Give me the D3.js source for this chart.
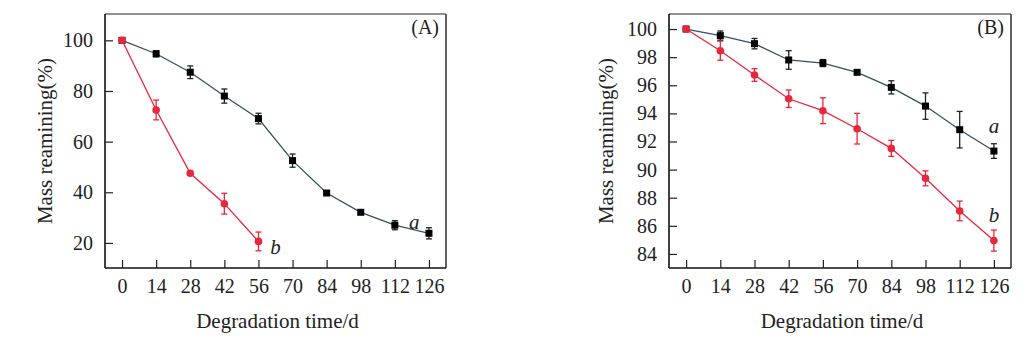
<!DOCTYPE html>
<html>
<head>
<meta charset="utf-8">
<script src="https://cdn.jsdelivr.net/npm/d3@7"></script>
<style>
  html, body { margin: 0; padding: 0; background: #fff; }
  svg { display: block; }
  text { font-family: "Liberation Serif", "Times New Roman", serif; fill: #222; }
</style>
</head>
<body>
<svg id="chart" width="1029" height="345"></svg>
<script>
// Degradation days (shared x categories)
const days = [0, 14, 28, 42, 56, 70, 84, 98, 112, 126];
const xTickLabels = ["0", "14", "28", "42", "56", "70", "84", "98", "112", "126"];

// Panel A
const aMassA = [100, 94.7, 87.4, 78.0, 69.1, 52.5, 39.7, 32.1, 27.0, 23.8];
const aErrA  = [0.5, 1.2, 2.5, 2.8, 2.1, 2.6, 0.8, 0.8, 1.8, 2.2];
const bDaysA = [0, 14, 28, 42, 56];
const bMassA = [100, 72.5, 47.5, 35.5, 20.6];
const bErrA  = [0.5, 3.9, 0.8, 4.1, 3.7];
const yTicksA = [20, 40, 60, 80, 100];

// Panel B
const aMassB = [100, 99.53, 98.96, 97.8, 97.58, 96.92, 95.85, 94.52, 92.84, 91.32];
const aErrB  = [0.05, 0.33, 0.37, 0.66, 0.25, 0.1, 0.47, 0.94, 1.3, 0.52];
const bMassB = [100, 98.46, 96.73, 95.04, 94.19, 92.91, 91.51, 89.38, 87.06, 84.95];
const bErrB  = [0.05, 0.68, 0.45, 0.62, 0.92, 1.09, 0.57, 0.53, 0.7, 0.75];
const yTicksB = [84, 86, 88, 90, 92, 94, 96, 98, 100];

const RED = "#e8263c";
const DARK = "#36505e";

const svg = d3.select("#chart");

function drawPanel(cfg) {
  const { left, right, top, bottom, yDomain, yTicks, series, tag, labels, titleOffset } = cfg;
  const x = d3.scaleLinear().domain([-7, 133]).range([left, right]);
  const y = d3.scaleLinear().domain(yDomain).range([bottom, top]);
  const g = svg.append("g");

  // frame: top/right lighter than the axes
  g.append("line").attr("x1", left).attr("x2", right).attr("y1", top).attr("y2", top)
    .attr("stroke", "#6b6b6b").attr("stroke-width", 1.6);
  g.append("line").attr("x1", right).attr("x2", right).attr("y1", top).attr("y2", bottom)
    .attr("stroke", "#3a3a3a").attr("stroke-width", 1.6);

  // x axis (ticks pointing inward)
  const xAxis = d3.axisBottom(x).tickValues(days)
    .tickFormat((d, i) => xTickLabels[i]).tickSizeInner(-8).tickSizeOuter(0).tickPadding(11);
  const gx = g.append("g").attr("transform", `translate(0,${bottom})`).call(xAxis);
  gx.select(".domain").attr("stroke", "#111").attr("stroke-width", 1.6)
    .attr("d", `M${left},0H${right}`);
  gx.selectAll(".tick line").attr("stroke", "#222").attr("stroke-width", 1.2);
  gx.selectAll(".tick text").style("font-size", "20px").style("font-family", "'Liberation Serif', serif").attr("fill", "#222");

  // y axis (ticks pointing inward)
  const yAxis = d3.axisLeft(y).tickValues(yTicks).tickSizeInner(-8).tickSizeOuter(0).tickPadding(12);
  const gy = g.append("g").attr("transform", `translate(${left},0)`).call(yAxis);
  gy.select(".domain").attr("stroke", "#111").attr("stroke-width", 1.6)
    .attr("d", `M0,${top}V${bottom}`);
  gy.selectAll(".tick line").attr("stroke", "#222").attr("stroke-width", 1.2);
  gy.selectAll(".tick text").style("font-size", "20px").style("font-family", "'Liberation Serif', serif").attr("fill", "#222");

  // axis titles
  g.append("text").attr("x", (left + right) / 2 + 2).attr("y", 328)
    .attr("text-anchor", "middle").style("font-size", "21px").text("Degradation time/d");
  g.append("text")
    .attr("transform", `translate(${left - titleOffset},141) rotate(-90)`)
    .attr("text-anchor", "middle").style("font-size", "21px").text("Mass reamining(%)");

  // panel tag
  g.append("text").attr("x", right - 7).attr("y", 34).attr("text-anchor", "end")
    .style("font-size", "20px").text(tag);

  // series
  series.forEach(s => {
    const pts = s.xs.map((d, i) => ({ x: d, y: s.ys[i], e: s.es[i] }));
    const line = d3.line().x(d => x(d.x)).y(d => y(d.y));
    g.append("path").datum(pts).attr("d", line).attr("fill", "none")
      .attr("stroke", s.line).attr("stroke-width", 1.3);

    const eb = g.append("g").attr("stroke", s.err).attr("stroke-width", 1.3);
    pts.forEach(p => {
      const cx = x(p.x), y1 = y(p.y - p.e), y2 = y(p.y + p.e);
      eb.append("line").attr("x1", cx).attr("x2", cx).attr("y1", y1).attr("y2", y2);
      eb.append("line").attr("x1", cx - 3).attr("x2", cx + 3).attr("y1", y1).attr("y2", y1);
      eb.append("line").attr("x1", cx - 3).attr("x2", cx + 3).attr("y1", y2).attr("y2", y2);
    });

    if (s.shape === "square") {
      g.selectAll(null).data(pts).enter().append("rect")
        .attr("x", d => x(d.x) - 3.5).attr("y", d => y(d.y) - 3.5)
        .attr("width", 7).attr("height", 7).attr("fill", s.fill);
    } else {
      g.selectAll(null).data(pts).enter().append("circle")
        .attr("cx", d => x(d.x)).attr("cy", d => y(d.y)).attr("r", 3.8).attr("fill", s.fill);
    }
  });

  // series letters
  labels.forEach(l => {
    g.append("text").attr("x", x(l.x)).attr("y", y(l.y)).attr("text-anchor", "middle")
      .style("font-size", "21px").style("font-style", "italic").text(l.text);
  });
}

drawPanel({
  left: 105, right: 446, top: 14, bottom: 268, titleOffset: 53,
  yDomain: [10.1, 110.4], yTicks: yTicksA, tag: "(A)",
  series: [
    { xs: days, ys: aMassA, es: aErrA, shape: "square", fill: "#000", line: DARK, err: "#222" },
    { xs: bDaysA, ys: bMassA, es: bErrA, shape: "circle", fill: RED, line: RED, err: RED }
  ],
  labels: [
    { text: "a", x: 120, y: 25.5 },
    { text: "b", x: 63, y: 15.8 }
  ]
});

drawPanel({
  left: 669, right: 1011, top: 14, bottom: 268, titleOffset: 56,
  yDomain: [83.0, 101.07], yTicks: yTicksB, tag: "(B)",
  series: [
    { xs: days, ys: aMassB, es: aErrB, shape: "square", fill: "#000", line: DARK, err: "#222" },
    { xs: days, ys: bMassB, es: bErrB, shape: "circle", fill: RED, line: RED, err: RED }
  ],
  labels: [
    { text: "a", x: 126, y: 92.6 },
    { text: "b", x: 126, y: 86.3 }
  ]
});
</script>
</body>
</html>
